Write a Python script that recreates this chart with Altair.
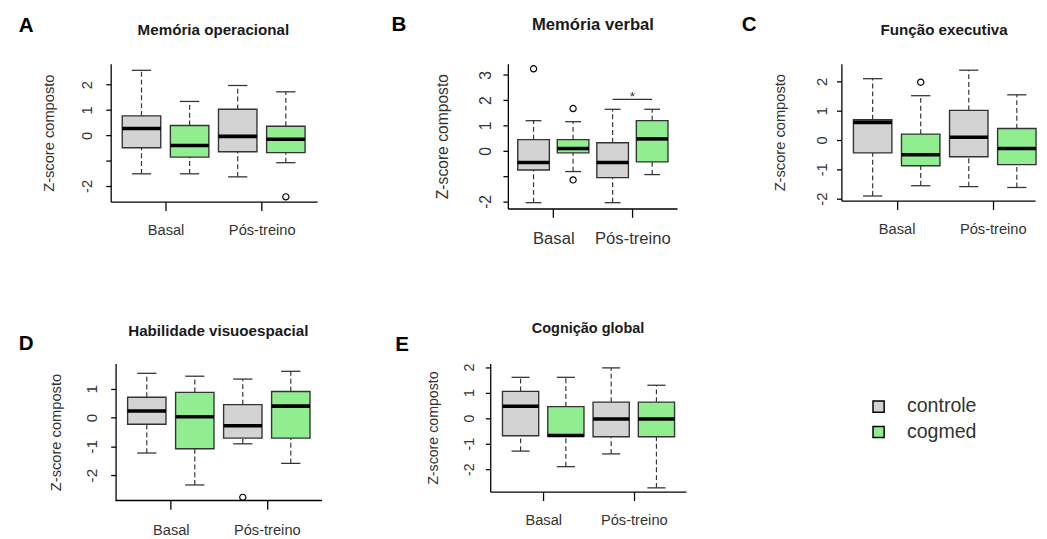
import altair as alt
import pandas as pd

FONT = "Liberation Sans"
TXT = "#333333"
LINE = "#333333"

# ---------------- shared categories ----------------
positions = [1, 2, 3, 4]
grupos = ["controle", "cogmed", "controle", "cogmed"]
x_ticks = [1.5, 3.5]
x_labels = ["Basal", "Pós-treino"]
legend_labels = ["controle", "cogmed"]
legend_colors = ["#d3d3d3", "#90ee90"]
y_title = "Z-score composto"

# ---------------- A: Memória operacional ----------------
a_lower = [-1.52, -1.52, -1.64, -1.08]
a_q1 = [-0.49, -0.86, -0.65, -0.68]
a_med = [0.27, -0.40, -0.04, -0.15]
a_q3 = [0.77, 0.39, 1.03, 0.36]
a_upper = [2.57, 1.34, 1.97, 1.72]
a_out_pos = [4]
a_out_val = [-2.43]

# ---------------- B: Memória verbal ----------------
b_lower = [-2.05, -0.82, -2.05, -0.94]
b_q1 = [-0.76, -0.08, -1.06, -0.44]
b_med = [-0.46, 0.09, -0.46, 0.47]
b_q3 = [0.44, 0.44, 0.32, 1.19]
b_upper = [1.19, 1.15, 1.64, 1.64]
b_out_pos = [1, 2, 2]
b_out_val = [3.24, 1.67, -1.15]
b_sig_from = [3]
b_sig_to = [4]
b_sig_y = [2.03]
b_sig_label = ["*"]

# ---------------- C: Função executiva ----------------
c_lower = [-1.91, -1.56, -1.59, -1.62]
c_q1 = [-0.44, -0.88, -0.57, -0.84]
c_med = [0.60, -0.50, 0.09, -0.29]
c_q3 = [0.69, 0.20, 1.01, 0.39]
c_upper = [2.09, 1.51, 2.38, 1.54]
c_out_pos = [2]
c_out_val = [1.97]

# ---------------- D: Habilidade visuoespacial ----------------
d_lower = [-1.23, -2.34, -0.91, -1.59]
d_q1 = [-0.23, -1.08, -0.71, -0.71]
d_med = [0.23, 0.03, -0.28, 0.40]
d_q3 = [0.71, 0.88, 0.45, 0.91]
d_upper = [1.54, 1.44, 1.34, 1.61]
d_out_pos = [3]
d_out_val = [-2.77]

# ---------------- E: Cognição global ----------------
e_lower = [-1.29, -1.90, -1.40, -2.73]
e_q1 = [-0.69, -0.71, -0.73, -0.73]
e_med = [0.47, -0.68, -0.03, -0.03]
e_q3 = [1.05, 0.45, 0.63, 0.63]
e_upper = [1.60, 1.60, 1.97, 1.29]
e_out_pos = []
e_out_val = []

LEGEND = alt.Legend(
    title=None, orient="none", legendX=775, legendY=340.5, padding=0,
    symbolType="square", symbolSize=130, symbolStrokeColor="black",
    symbolStrokeWidth=1.5, labelFont=FONT, labelFontSize=20,
    labelColor=TXT, labelOffset=19, rowPadding=6,
)


def panel(letter, title, lower, q1, med, q3, upper, out_pos, out_val, cfg,
          sig=None):
    df = pd.DataFrame({"pos": positions, "grupo": grupos, "lower": lower,
                       "q1": q1, "med": med, "q3": q3, "upper": upper})
    xs = alt.Scale(domain=cfg["xdom"], nice=False, zero=False)
    ys = alt.Scale(domain=cfg["ydom"], nice=False, zero=False)
    hide = cfg["yhide"]
    if hide:
        cond = " || ".join(f"datum.value == {v}" for v in hide)
        yexpr = f"({cond}) ? '' : toString(datum.value)"
    else:
        yexpr = "toString(datum.value)"
    # panel whose y axis sits a few pixels inside its view: the x axis line
    # is then drawn as a rule starting at the y axis
    yoff = cfg.get("yoff", 0)
    own_xline = yoff != 0
    ax_x = alt.Axis(
        title=None, values=x_ticks,
        labelExpr=f"datum.value < 2.5 ? '{x_labels[0]}' : '{x_labels[1]}'",
        grid=False, domain=not own_xline, domainColor="black", domainWidth=1.3,
        tickColor="black", tickWidth=1.3, tickSize=9, labelFont=FONT,
        labelFontSize=cfg["fx"], labelColor=TXT, labelPadding=cfg["xpad"],
        labelOverlap=False, labelFlush=False, labelAlign="center",
        labelBaseline="top",
    )
    ax_y = alt.Axis(
        title=y_title, titleFont=FONT, titleFontSize=cfg["fyt"],
        titleFontWeight="normal", titleColor=TXT, titlePadding=cfg["ytp"],
        values=cfg["yticks"], labelExpr=yexpr, labelAngle=270,
        labelAlign="center", labelBaseline="bottom", labelPadding=cfg["ypad"],
        labelFont=FONT, labelFontSize=cfg["fy"], labelColor=TXT,
        labelOverlap=False, labelFlush=False, grid=False, domainColor="black",
        domainWidth=1.3, tickColor="black", tickWidth=1.3, tickSize=5,
        offset=yoff,
    )

    def X(f):
        return alt.X(f"{f}:Q", scale=xs, axis=ax_x)

    def Y(f):
        return alt.Y(f"{f}:Q", scale=ys, axis=ax_y)

    base = alt.Chart(df).transform_calculate(
        x0="datum.pos - 0.4", x1="datum.pos + 0.4",
        c0="datum.pos - 0.2", c1="datum.pos + 0.2",
    )
    layers = [
        base.mark_rule(color=LINE, strokeWidth=1.2, strokeDash=[5, 3]).encode(
            x=X("pos"), y=Y("q3"), y2=alt.Y2("upper")),
        base.mark_rule(color=LINE, strokeWidth=1.2, strokeDash=[5, 3]).encode(
            x=X("pos"), y=Y("lower"), y2=alt.Y2("q1")),
        base.mark_rule(color=LINE, strokeWidth=1.3).encode(
            x=X("c0"), x2=alt.X2("c1"), y=Y("upper")),
        base.mark_rule(color=LINE, strokeWidth=1.3).encode(
            x=X("c0"), x2=alt.X2("c1"), y=Y("lower")),
        base.mark_rect(stroke=LINE, strokeWidth=1.4).encode(
            x=X("x0"), x2=alt.X2("x1"), y=Y("q1"), y2=alt.Y2("q3"),
            color=alt.Color("grupo:N",
                            scale=alt.Scale(domain=legend_labels,
                                            range=legend_colors),
                            legend=LEGEND)),
        base.mark_rule(color="black", strokeWidth=3.6).encode(
            x=X("x0"), x2=alt.X2("x1"), y=Y("med")),
    ]
    if own_xline:
        ldf = pd.DataFrame({"a": [cfg["xline"][0]], "b": [cfg["xline"][1]],
                            "y": [cfg["ydom"][0]]})
        layers.append(alt.Chart(ldf).mark_rule(color="black", strokeWidth=1.3).encode(
            x=X("a"), x2=alt.X2("b"), y=Y("y")))
    if out_pos:
        odf = pd.DataFrame({"pos": out_pos, "val": out_val})
        layers.append(
            alt.Chart(odf).mark_point(shape="circle", filled=False, size=40,
                                      color="black", strokeWidth=1.2,
                                      opacity=1).encode(x=X("pos"), y=Y("val")))
    if sig is not None:
        s_from, s_to, s_y, s_lab = sig
        sdf = pd.DataFrame({"a": s_from, "b": s_to, "y": s_y, "t": s_lab})
        sdf["m"] = (sdf["a"] + sdf["b"]) / 2
        layers.append(alt.Chart(sdf).mark_rule(color=LINE, strokeWidth=1.2).encode(
            x=X("a"), x2=alt.X2("b"), y=Y("y")))
        layers.append(alt.Chart(sdf).mark_text(
            font=FONT, fontSize=14, color=TXT, baseline="alphabetic", dy=2).encode(
            x=X("m"), y=Y("y"), text="t:N"))
    lx, ly = cfg["letter"]
    tx, ty = cfg["title"]
    layers.append(alt.Chart(pd.DataFrame({"t": [letter]})).mark_text(
        font=FONT, fontSize=21, fontWeight="bold", color="black",
        align="left", baseline="middle").encode(
        text="t:N", x=alt.value(lx), y=alt.value(ly)))
    layers.append(alt.Chart(pd.DataFrame({"t": [title]})).mark_text(
        font=FONT, fontSize=cfg["ft"], fontWeight="bold", color="#1a1a1a",
        align="center", baseline="middle").encode(
        text="t:N", x=alt.value(tx), y=alt.value(ty)))
    return alt.layer(*layers).properties(width=cfg["w"], height=cfg["h"])


cfgA = dict(w=211, h=141, xdom=[0.36, 4.65], ydom=[-2.62, 2.83],
            yticks=[-2, -1, 0, 1, 2], yhide=[-1], fx=15, fy=15, fyt=15,
            ft=15.5, xpad=13, ypad=12, ytp=23, letter=(-94, -38), title=(105, -34))
cfgB = dict(w=173, h=148, xdom=[0.35, 4.63], ydom=[-2.28, 3.44],
            yticks=[-2, -1, 0, 1, 2, 3], yhide=[-1], fx=17, fy=16, fyt=16,
            ft=17, xpad=14, ypad=10, ytp=28, letter=(-119, -39), title=(87, -39))
cfgC = dict(w=198, h=140, xdom=[0.35, 4.38], ydom=[-2.07, 2.6],
            yticks=[-2, -1, 0, 1, 2], yhide=[], fx=15, fy=15, fyt=15,
            ft=15.5, xpad=13, ypad=7, ytp=28, letter=(-102, -39.5), title=(105, -34))
cfgD = dict(w=216, h=140, xdom=[0.248, 4.65], ydom=[-2.88, 1.88],
            yoff=-5, xline=[0.35, 4.65],
            yticks=[-2, -1, 0, 1], yhide=[], fx=15, fy=15.5, fyt=15,
            ft=15.5, xpad=14, ypad=12, ytp=21, letter=(-94, -20), title=(110, -33))
cfgE = dict(w=200, h=131, xdom=[0.33, 4.65], ydom=[-2.88, 2.14],
            yticks=[-2, -1, 0, 1, 2], yhide=[], fx=15, fy=14.5, fyt=14.5,
            ft=14.8, xpad=12.5, ypad=9, ytp=22, letter=(-97, -19), title=(100, -35))

pA = panel("A", "Memória operacional", a_lower, a_q1, a_med, a_q3, a_upper,
           a_out_pos, a_out_val, cfgA)
pB = panel("B", "Memória verbal", b_lower, b_q1, b_med, b_q3, b_upper,
           b_out_pos, b_out_val, cfgB,
           sig=(b_sig_from, b_sig_to, b_sig_y, b_sig_label))
pC = panel("C", "Função executiva", c_lower, c_q1, c_med, c_q3, c_upper,
           c_out_pos, c_out_val, cfgC)
pD = panel("D", "Habilidade visuoespacial", d_lower, d_q1, d_med, d_q3,
           d_upper, d_out_pos, d_out_val, cfgD)
pE = panel("E", "Cognição global", e_lower, e_q1, e_med, e_q3, e_upper,
           e_out_pos, e_out_val, cfgE)

row1 = alt.hconcat(alt.hconcat(pA, pB, spacing=74), pC, spacing=64)
row2 = alt.hconcat(pD, pE, spacing=72)

chart = (
    alt.vconcat(row1, row2, spacing=74.5)
    .properties(padding={"left": 10, "top": 0, "right": 0, "bottom": 0},
                background="white")
    .configure_view(stroke="transparent")
)

chart.save("out.html", embed_options={"renderer": "svg", "actions": False})
